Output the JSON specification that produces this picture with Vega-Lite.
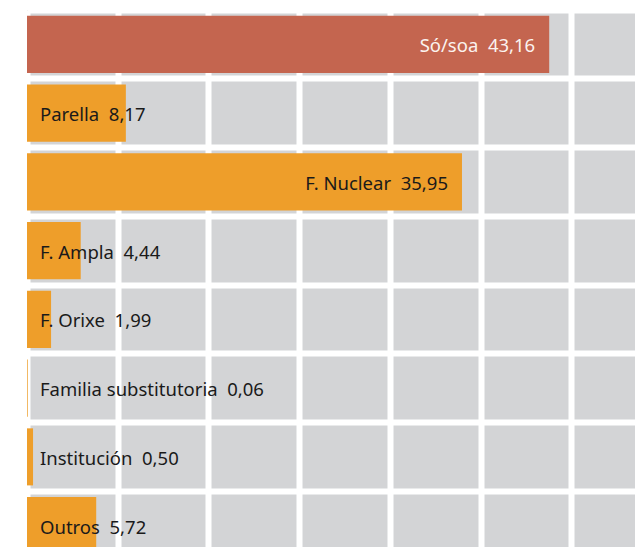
{
  "$schema": "https://vega.github.io/schema/vega-lite/v6.json",
  "width": 608,
  "height": 550,
  "padding": {"left": 27, "top": 10, "right": 0, "bottom": 0},
  "autosize": {"type": "none"},
  "background": "white",
  "config": {"view": {"stroke": null, "fill": "#D3D4D6"}},
  "data": {
    "values": [
      {"cat": "Só/soa", "value": 43.16, "kind": "main"},
      {"cat": "Parella", "value": 8.17, "kind": "other"},
      {"cat": "F. Nuclear", "value": 35.95, "kind": "other"},
      {"cat": "F. Ampla", "value": 4.44, "kind": "other"},
      {"cat": "F. Orixe", "value": 1.99, "kind": "other"},
      {"cat": "Familia substitutoria", "value": 0.06, "kind": "other"},
      {"cat": "Institución", "value": 0.50, "kind": "other"},
      {"cat": "Outros", "value": 5.72, "kind": "other"}
    ]
  },
  "transform": [
    {"calculate": "datum.cat + '\u00a0 ' + replace(format(datum.value, '.2f'), '.', ',')", "as": "label"}
  ],
  "encoding": {
    "y": {
      "field": "cat",
      "type": "nominal",
      "sort": ["Só/soa", "Parella", "F. Nuclear", "F. Ampla", "F. Orixe", "Familia substitutoria", "Institución", "Outros"],
      "scale": {"paddingInner": 0, "paddingOuter": 0},
      "axis": {"grid": true, "bandPosition": 0, "gridColor": "white", "gridWidth": 6, "gridOpacity": 1, "labels": false, "ticks": false, "domain": false, "title": null}
    }
  },
  "layer": [
    {
      "mark": {"type": "bar", "height": {"band": 0.83}},
      "encoding": {
        "x": {
          "field": "value",
          "type": "quantitative",
          "scale": {"domain": [0, 50.25], "nice": false},
          "axis": {"values": [0, 7.5, 15, 22.5, 30, 37.5, 45], "grid": true, "gridColor": "white", "gridWidth": 6, "gridOpacity": 1, "labels": false, "ticks": false, "domain": false, "title": null}
        },
        "color": {
          "field": "kind",
          "type": "nominal",
          "scale": {"domain": ["main", "other"], "range": ["#C4654F", "#EE9E2A"]},
          "legend": null
        }
      }
    },
    {
      "transform": [{"filter": "datum.value > 20"}],
      "mark": {"type": "text", "align": "right", "baseline": "middle", "dx": -14, "dy": 2, "font": "Noto Sans", "fontSize": 18.5},
      "encoding": {
        "x": {"field": "value", "type": "quantitative"},
        "text": {"field": "label"},
        "color": {"condition": {"test": "datum.kind == 'main'", "value": "#FBF3EF"}, "value": "#1A1A1A"}
      }
    },
    {
      "transform": [{"filter": "datum.value <= 20"}],
      "mark": {"type": "text", "align": "left", "baseline": "middle", "dx": 13, "dy": 2, "font": "Noto Sans", "fontSize": 18.5, "color": "#1A1A1A"},
      "encoding": {
        "x": {"datum": 0, "type": "quantitative"},
        "text": {"field": "label"}
      }
    }
  ]
}
